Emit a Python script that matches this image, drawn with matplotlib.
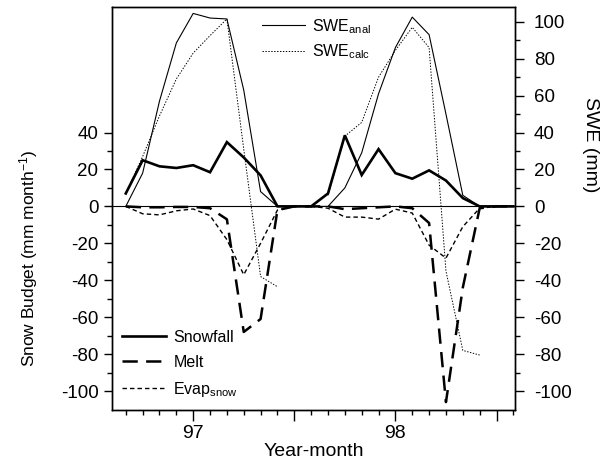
import numpy as np
import matplotlib
matplotlib.use('Agg')
import matplotlib.pyplot as plt
from matplotlib.ticker import FixedLocator, MultipleLocator

plt.rcParams['font.family'] = ['Liberation Sans', 'DejaVu Sans']
plt.rcParams['mathtext.fontset'] = 'custom'
plt.rcParams['mathtext.rm'] = 'Liberation Sans'
plt.rcParams['mathtext.it'] = 'Liberation Sans:italic'
plt.rcParams['mathtext.bf'] = 'Liberation Sans:bold'
plt.rcParams['lines.scale_dashes'] = False
plt.rcParams['axes.unicode_minus'] = False

# months relative to January 1997 (Sep 1996 .. Aug 1998)
months = list(range(-4, 20))
snowfall = [7, 25, 21.7, 20.8, 22.3, 18.5, 34.8, 26.5, 16.8, 0, 0, 0,
            7, 38.5, 17, 31, 18, 15, 19.5, 14, 4.5, 0, 0, 0]
melt = [0, -0.5, -0.5, -0.3, -0.3, -1, -7, -68, -61, -2, 0, 0,
        0, -1.5, -1, -0.5, 0, -1, -9, -106, -44, -1, 0, 0]
evap = [0, -4, -4.6, -2.4, -1.4, -5, -18, -37, -20, -2, 0, 0,
        -1, -5.8, -5.8, -6.9, -1.5, -3.6, -21, -28, -11, -1, 0, 0]
swe_anal = [0, 18, 57, 88.5, 104.5, 102, 101.5, 63, 8, 0, 0, 0,
            0, 10, 29, 61, 86, 102.5, 93, 50, 6, 0, 0, 0]
swe_calc = [7, 27, 49, 69, 83, 92.5, 101.5, 31, -38, -43.5, np.nan, np.nan,
            6, 38, 45.5, 70, 84.5, 97, 86, -35, -78, -80.5, np.nan, np.nan]

xtick_pos = [0, 6, 12, 18]
xtick_labels = ['97', '', '98', '']
left_ticks = [-100, -80, -60, -40, -20, 0, 20, 40]
right_ticks = [-100, -80, -60, -40, -20, 0, 20, 40, 60, 80, 100]

fig = plt.figure(figsize=(6.13, 4.67), dpi=100)
ax = fig.add_axes([0.1832, 0.1231, 0.657, 0.862])
ax2 = ax.twinx()

ax.axhline(0, color='black', lw=0.8, zorder=1)
l_snow, = ax.plot(months, snowfall, color='black', lw=1.9, solid_joinstyle='miter')
l_melt, = ax.plot(months, melt, color='black', lw=1.8, dashes=(11, 6))
l_evap, = ax.plot(months, evap, color='black', lw=1.0, dashes=(3.2, 2.2))

l_anal, = ax2.plot(months, swe_anal, color='black', lw=0.8)
l_calc, = ax2.plot(months, swe_calc, color='black', lw=0.7, dashes=(1, 1.1))

ax.set_xlim(-4.8, 19.1)
ax.set_ylim(-110, 108)
ax2.set_ylim(-110, 108)

ax.set_xticks(xtick_pos)
ax.set_xticklabels(xtick_labels)
ax.xaxis.set_minor_locator(MultipleLocator(1))
ax.set_yticks(left_ticks)
ax.yaxis.set_minor_locator(FixedLocator([-90, -70, -50, -30, -10, 10, 30]))
ax2.set_yticks(right_ticks)
ax2.yaxis.set_minor_locator(FixedLocator([-90, -70, -50, -30, -10, 10, 30, 50, 70, 90]))

for a in (ax, ax2):
    for s in a.spines.values():
        s.set_linewidth(1.0)

ax.tick_params(axis='x', which='major', length=8, width=1, direction='out', labelsize=14, pad=3)
ax.tick_params(axis='x', which='minor', length=3.5, width=1, direction='out')
ax.tick_params(axis='y', which='major', length=6, width=1, direction='out', labelsize=13.5, pad=4)
ax.tick_params(axis='y', which='minor', length=3.5, width=1, direction='out')
ax2.tick_params(axis='y', which='major', length=6.5, width=1, direction='out', labelsize=13.5, pad=7)
ax2.tick_params(axis='y', which='minor', length=3.5, width=1, direction='out')

ax.set_xlabel('Year-month', fontsize=14, labelpad=1)
ax.set_ylabel(r'Snow Budget (mm month$^{\mathrm{-1}}$)', fontsize=12.5, va='center')
ax.yaxis.set_label_coords(-0.207, 0.375)
ax2.set_ylabel('SWE (mm)', fontsize=14, rotation=270, va='center')
ax2.yaxis.set_label_coords(1.188, 0.658)

leg1 = ax2.legend([l_anal, l_calc], [r'SWE$_{\mathrm{anal}}$', r'SWE$_{\mathrm{calc}}$'],
                  loc='upper left', bbox_to_anchor=(0.371, 0.975), frameon=False,
                  fontsize=11.5, handlelength=2.7, handletextpad=0.45,
                  labelspacing=0.42, borderaxespad=0, borderpad=0)
leg2 = ax.legend([l_snow, l_melt, l_evap], ['Snowfall', 'Melt', r'Evap$_{\mathrm{snow}}$'],
                 loc='upper left', bbox_to_anchor=(0.023, 0.198), frameon=False,
                 fontsize=11.5, handlelength=2.8, handletextpad=0.45,
                 labelspacing=0.62, borderaxespad=0, borderpad=0)

fig.savefig('out.png', dpi=100)
